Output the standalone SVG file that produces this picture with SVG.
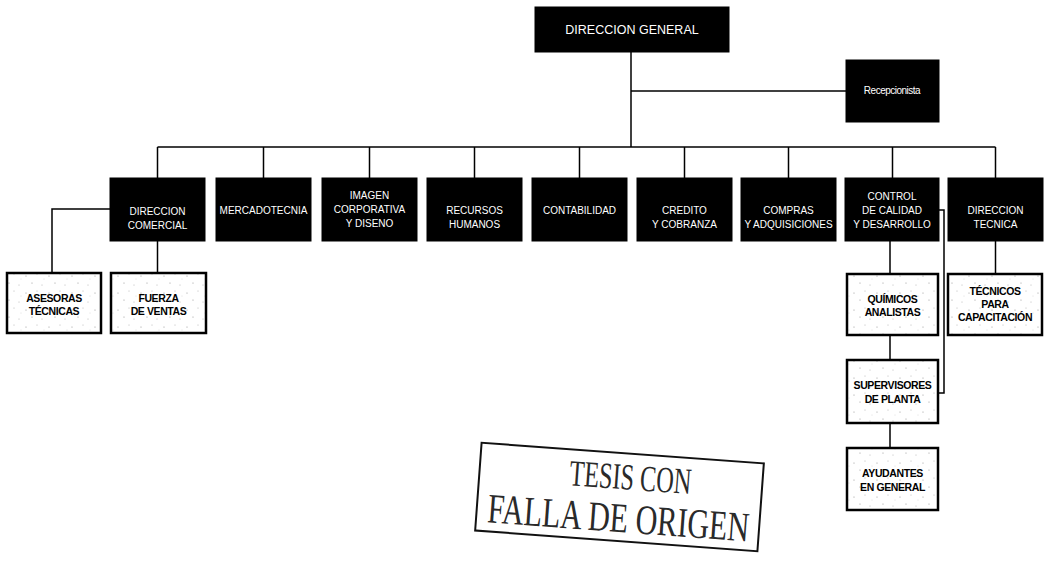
<svg xmlns="http://www.w3.org/2000/svg" width="1049" height="563" viewBox="0 0 1049 563">
<defs>
<pattern id="speck" width="23" height="17" patternUnits="userSpaceOnUse">
<rect width="23" height="17" fill="#fff"/>
<circle cx="3" cy="4" r="0.6" fill="#999"/>
<circle cx="14" cy="2" r="0.5" fill="#aaa"/>
<circle cx="9" cy="11" r="0.6" fill="#999"/>
<circle cx="19" cy="13" r="0.5" fill="#aaa"/>
<circle cx="21" cy="7" r="0.4" fill="#bbb"/>
</pattern>
<style>
.dk{fill:#000;stroke:#000;stroke-width:1}
.lt{fill:url(#speck);stroke:#000;stroke-width:2.5}
.wt{fill:#fff;font-family:"Liberation Sans",Arial,sans-serif;font-size:10px;text-anchor:middle}
.bt{fill:#000;font-family:"Liberation Sans",Arial,sans-serif;font-size:10.5px;font-weight:bold;text-anchor:middle;letter-spacing:-0.4px}
.ln{fill:none;stroke:#000;stroke-width:1.5}
.st{fill:#2a2a2a;font-family:"Liberation Serif","Times New Roman",serif;text-anchor:middle}
</style>
</defs>
<rect width="1049" height="563" fill="#fff"/>
<g id="connectors">
<path class="ln" d="M631,52 V147"/>
<path class="ln" d="M631,91 H846"/>
<path class="ln" d="M157.5,147 H995.5"/>
<path class="ln" d="M157.5,147 V178 M263.5,147 V178 M369.5,147 V178 M474.5,147 V178 M579.5,147 V178 M684.5,147 V178 M788.5,147 V178 M892.5,147 V178 M995.5,147 V178"/>
<path class="ln" d="M110,209 H52 V273"/>
<path class="ln" d="M157.5,241 V273"/>
<path class="ln" d="M890,241 V274"/>
<path class="ln" d="M995.5,241 V274"/>
<path class="ln" d="M939,210 H944 V393 H938"/>
<path class="ln" d="M890,335 V360"/>
<path class="ln" d="M890,423 V448"/>
</g>
<g id="n-direccion-general">
<rect class="dk" x="535" y="7" width="194" height="45"/>
<text class="wt" x="632" y="34" style="font-size:12.5px">DIRECCION GENERAL</text>
</g>
<g id="n-recepcionista">
<rect class="dk" x="846" y="60" width="93" height="62"/>
<text class="wt" x="892" y="94" style="font-size:10px;letter-spacing:-0.5px">Recepcionista</text>
</g>
<g id="n-direccion-comercial">
<rect class="dk" x="110" y="178" width="95" height="63"/>
<text class="wt" x="157.5" y="215">DIRECCION</text>
<text class="wt" x="157.5" y="229">COMERCIAL</text>
</g>
<g id="n-mercadotecnia">
<rect class="dk" x="216" y="178" width="95" height="63"/>
<text class="wt" x="263.5" y="214">MERCADOTECNIA</text>
</g>
<g id="n-imagen">
<rect class="dk" x="322" y="178" width="95" height="63"/>
<text class="wt" x="369.5" y="199">IMAGEN</text>
<text class="wt" x="369.5" y="213">CORPORATIVA</text>
<text class="wt" x="369.5" y="227">Y DISENO</text>
</g>
<g id="n-recursos">
<rect class="dk" x="427" y="178" width="95" height="63"/>
<text class="wt" x="474.5" y="214">RECURSOS</text>
<text class="wt" x="474.5" y="228">HUMANOS</text>
</g>
<g id="n-contabilidad">
<rect class="dk" x="532" y="178" width="95" height="63"/>
<text class="wt" x="579.5" y="214">CONTABILIDAD</text>
</g>
<g id="n-credito">
<rect class="dk" x="637" y="178" width="95" height="63"/>
<text class="wt" x="684.5" y="214">CREDITO</text>
<text class="wt" x="684.5" y="228">Y COBRANZA</text>
</g>
<g id="n-compras">
<rect class="dk" x="741" y="178" width="95" height="63"/>
<text class="wt" x="788.5" y="214">COMPRAS</text>
<text class="wt" x="788.5" y="228">Y ADQUISICIONES</text>
</g>
<g id="n-control">
<rect class="dk" x="845" y="178" width="94" height="63"/>
<text class="wt" x="892" y="200">CONTROL</text>
<text class="wt" x="892" y="214">DE CALIDAD</text>
<text class="wt" x="892" y="228">Y DESARROLLO</text>
</g>
<g id="n-direccion-tecnica">
<rect class="dk" x="948" y="178" width="95" height="63"/>
<text class="wt" x="995.5" y="214">DIRECCION</text>
<text class="wt" x="995.5" y="228">TECNICA</text>
</g>
<g id="n-asesoras">
<rect class="lt" x="7" y="273" width="94" height="60"/>
<text class="bt" x="54" y="302">ASESORAS</text>
<text class="bt" x="54" y="315">TÉCNICAS</text>
</g>
<g id="n-fuerza">
<rect class="lt" x="111" y="273" width="95" height="60"/>
<text class="bt" x="158.5" y="302">FUERZA</text>
<text class="bt" x="158.5" y="315">DE VENTAS</text>
</g>
<g id="n-quimicos">
<rect class="lt" x="847" y="274" width="91" height="61"/>
<text class="bt" x="892.5" y="303">QUÍMICOS</text>
<text class="bt" x="892.5" y="316">ANALISTAS</text>
</g>
<g id="n-tecnicos">
<rect class="lt" x="948" y="274" width="94" height="61"/>
<text class="bt" x="995" y="295">TÉCNICOS</text>
<text class="bt" x="995" y="308">PARA</text>
<text class="bt" x="995" y="321">CAPACITACIÓN</text>
</g>
<g id="n-supervisores">
<rect class="lt" x="847" y="360" width="91" height="63"/>
<text class="bt" x="892.5" y="389">SUPERVISORES</text>
<text class="bt" x="892.5" y="403">DE PLANTA</text>
</g>
<g id="n-ayudantes">
<rect class="lt" x="847" y="448" width="91" height="62"/>
<text class="bt" x="892.5" y="477">AYUDANTES</text>
<text class="bt" x="892.5" y="491">EN GENERAL</text>
</g>
<g id="stamp" transform="rotate(4.2 620 497)">
<rect x="478" y="453" width="283" height="88" fill="none" stroke="#111" stroke-width="2"/>
<text class="st" x="629" y="489" style="font-size:37px" textLength="122" lengthAdjust="spacingAndGlyphs">TESIS CON</text>
<text class="st" x="620" y="532" style="font-size:42px" textLength="262" lengthAdjust="spacingAndGlyphs">FALLA DE ORIGEN</text>
</g>
</svg>
